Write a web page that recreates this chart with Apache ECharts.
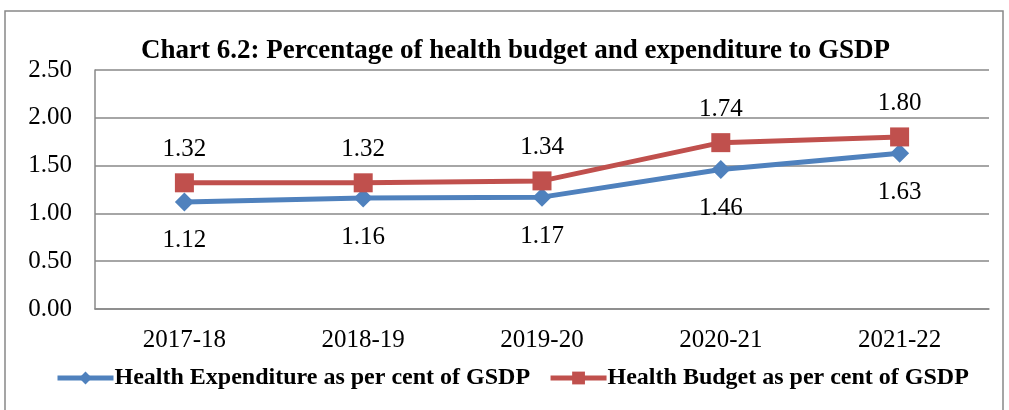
<!DOCTYPE html>
<html>
<head>
<meta charset="utf-8">
<script src="https://cdn.jsdelivr.net/npm/echarts@6/dist/echarts.min.js"></script>
<style>
  html, body { margin: 0; padding: 0; background: #fff; }
  #main { width: 1009px; height: 410px; }
</style>
</head>
<body>
<div id="main"></div>
<script>
var years = ['2017-18', '2018-19', '2019-20', '2020-21', '2021-22'];
var expenditure = [1.12, 1.16, 1.17, 1.46, 1.63];
var budget = [1.32, 1.32, 1.34, 1.74, 1.80];

var serif = '"Liberation Serif", "DejaVu Serif", serif';
var chart = echarts.init(document.getElementById('main'));

var option = {
    animation: false,
    backgroundColor: '#fff',
    textStyle: { fontFamily: serif },
    graphic: [{
        type: 'rect',
        shape: { x: 5, y: 11, width: 998, height: 420 },
        style: { fill: 'none', stroke: '#888', lineWidth: 1.5 },
        silent: true
    }],
    title: {
        text: 'Chart 6.2: Percentage of health budget and expenditure to GSDP',
        left: 136,
        top: 33,
        textStyle: { fontFamily: serif, fontSize: 27, fontWeight: 'bold', color: '#000' }
    },
    grid: { left: 95, right: 20, top: 70, bottom: 101 },
    legend: {
        bottom: 15,
        left: 50,
        itemWidth: 56,
        itemHeight: 16,
        itemGap: 18,
        lineStyle: { width: 5 },
        textStyle: { fontFamily: serif, fontSize: 24, fontWeight: 'bold', color: '#000', padding: [0, 0, 0, -4] },
        data: ['Health Expenditure as per cent of GSDP', 'Health Budget as per cent of GSDP']
    },
    xAxis: {
        type: 'category',
        data: years,
        axisLine: { lineStyle: { color: '#888', width: 1.5 } },
        axisTick: { show: false },
        axisLabel: { color: '#000', fontSize: 25, margin: 19, fontFamily: serif }
    },
    yAxis: {
        type: 'value',
        min: 0,
        max: 2.5,
        interval: 0.5,
        axisLine: { show: true, lineStyle: { color: '#888', width: 1.5 } },
        axisTick: { show: false },
        splitLine: { lineStyle: { color: '#888', width: 1.5 } },
        axisLabel: {
            color: '#000', fontSize: 25, margin: 23, fontFamily: serif,
            formatter: function (v) { return v.toFixed(2); }
        }
    },
    series: [
        {
            name: 'Health Expenditure as per cent of GSDP',
            type: 'line',
            data: expenditure,
            color: '#4F81BD',
            symbol: 'diamond',
            symbolSize: 19,
            lineStyle: { width: 5 },
            label: {
                show: true, position: 'bottom', distance: 17,
                fontSize: 25, color: '#000', fontFamily: serif,
                formatter: function (p) { return p.value.toFixed(2); }
            }
        },
        {
            name: 'Health Budget as per cent of GSDP',
            type: 'line',
            data: budget,
            color: '#C0504D',
            symbol: 'rect',
            symbolSize: 19,
            lineStyle: { width: 5 },
            label: {
                show: true, position: 'top', distance: 11,
                fontSize: 25, color: '#000', fontFamily: serif,
                formatter: function (p) { return p.value.toFixed(2); }
            }
        }
    ]
};
chart.setOption(option);
</script>
</body>
</html>
